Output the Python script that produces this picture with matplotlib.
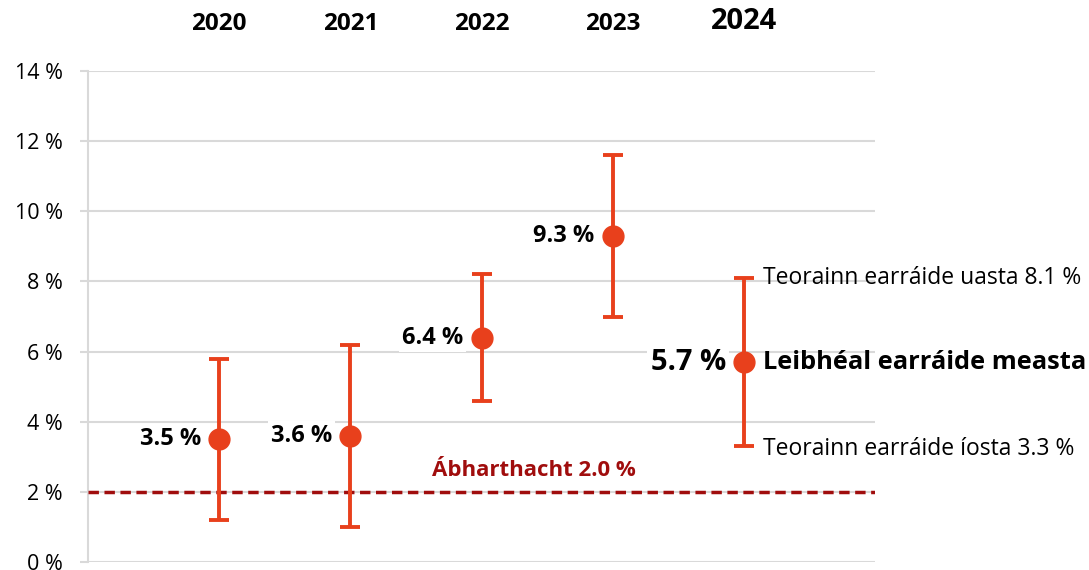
import matplotlib.pyplot as plt

# Data
years = ["2020", "2021", "2022", "2023", "2024"]
estimate = [3.5, 3.6, 6.4, 9.3, 5.7]
upper = [5.8, 6.2, 8.2, 11.6, 8.1]
lower = [1.2, 1.0, 4.6, 7.0, 3.3]
materiality = 2.0
y_ticks = [0, 2, 4, 6, 8, 10, 12, 14]

plt.rcParams['font.family'] = ['Open Sans', 'DejaVu Sans']

orange = "#e8401c"
darkred = "#a00d0d"
grid_gray = "#d9d9d9"

fig = plt.figure(figsize=(10.89, 5.70), dpi=100)
ax = fig.add_axes([0.0808, 0.014, 0.7227, 0.8614])

x = list(range(1, len(years) + 1))
err_low = [e - l for e, l in zip(estimate, lower)]
err_high = [u - e for e, u in zip(estimate, upper)]

ax.errorbar(x, estimate, yerr=[err_low, err_high], fmt="o", color=orange,
            ecolor=orange, elinewidth=2.8, capsize=7, capthick=2.8,
            markersize=15, zorder=5)

# materiality line
ax.axhline(materiality, color=darkred, lw=2.5, ls=(0, (3, 1.6)), zorder=3)
ax.text(3.4, materiality + 0.3, f"Ábharthacht {materiality:.1f} %", color=darkred,
        fontsize=16, fontweight="bold", ha="center", va="bottom")

# value labels to the left of the points
for i, (xi, v) in enumerate(zip(x, estimate)):
    last = i == len(years) - 1
    ax.annotate(f"{v:.1f} %", (xi, v), xytext=(-13, 0), textcoords="offset points",
                ha="right", va="center", fontsize=21 if last else 17,
                fontweight="bold", zorder=6,
                bbox=dict(boxstyle="square,pad=0.12", fc="white", ec="none"))

# annotations for last year
ax.annotate(f"Teorainn earráide uasta {upper[-1]:.1f} %", (x[-1], upper[-1]),
            xytext=(14, 0), textcoords="offset points", ha="left", va="center",
            fontsize=16.5, annotation_clip=False)
ax.annotate("Leibhéal earráide measta", (x[-1], estimate[-1]),
            xytext=(14, 0), textcoords="offset points", ha="left", va="center",
            fontsize=18.3, fontweight="bold", annotation_clip=False)
ax.annotate(f"Teorainn earráide íosta {lower[-1]:.1f} %", (x[-1], lower[-1]),
            xytext=(14, -2), textcoords="offset points", ha="left", va="center",
            fontsize=16.5, annotation_clip=False)

ax.set_xlim(0, 6)
ax.set_ylim(0, 14)
ax.set_yticks(y_ticks)
ax.set_yticklabels([f"{t} %" for t in y_ticks], fontsize=15.5)
ax.grid(axis="y", color=grid_gray, lw=1.5, zorder=0)
ax.set_axisbelow(True)

ax.xaxis.tick_top()
ax.set_xticks(x)
ax.set_xticklabels(years, fontweight="bold", fontsize=17.5)
ax.get_xticklabels()[-1].set_fontsize(21)
ax.tick_params(axis="x", length=0, pad=25)
ax.tick_params(axis="y", length=6, color=grid_gray, width=1.5, pad=12)

for side in ["top", "right", "bottom"]:
    ax.spines[side].set_visible(False)
ax.spines["left"].set_color(grid_gray)
ax.spines["left"].set_linewidth(1.5)

fig.savefig("out.png", dpi=100)
